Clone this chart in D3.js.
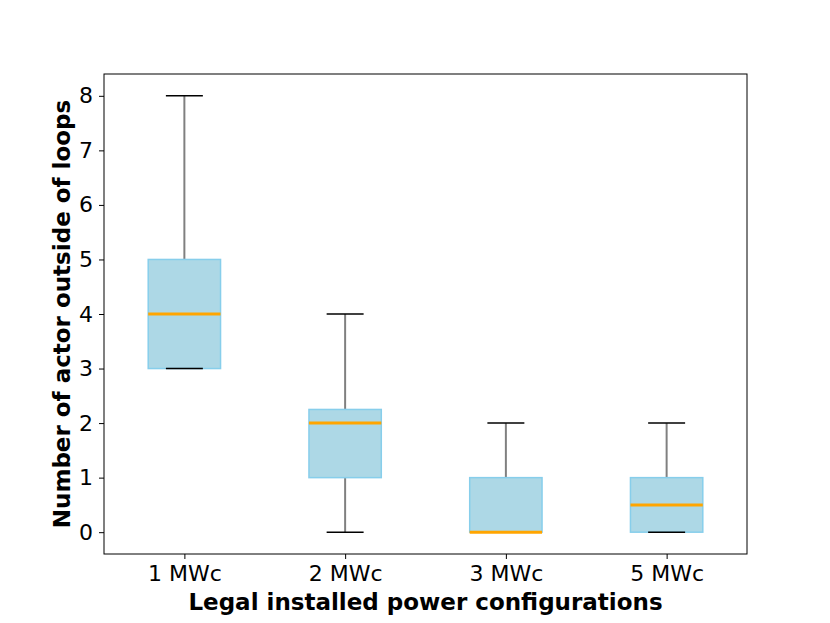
<!DOCTYPE html>
<html>
<head>
<meta charset="utf-8">
<script src="https://cdn.jsdelivr.net/npm/d3@7"></script>
<style>
  body { margin: 0; background: #fff; }
  text { font-family: "DejaVu Sans", sans-serif; }
</style>
</head>
<body>
<svg id="chart"></svg>
<script>
// data
var categories = ["1 MWc", "2 MWc", "3 MWc", "5 MWc"];
var whiskerLow = [3, 0, 0, 0];
var q1 = [3, 1, 0, 0];
var medians = [4, 2, 0, 0.5];
var q3 = [5, 2.25, 1, 1];
var whiskerHigh = [8, 4, 2, 2];
var yTicks = [0, 1, 2, 3, 4, 5, 6, 7, 8];

var w = 830;
var h = 623;
var pLeft = 104, pRight = 747, pTop = 74, pBottom = 554;

var svg = d3.select("#chart")
    .attr("width", w)
    .attr("height", h);

var x = d3.scaleLinear().domain([0.5, 4.5]).range([pLeft, pRight]);
var y = d3.scaleLinear().domain([-0.4, 8.4]).range([pBottom, pTop]);

var boxW = 0.45, capW = 0.23;

var boxes = categories.map(function (c, i) {
    return { pos: i + 1, lo: whiskerLow[i], q1: q1[i], med: medians[i], q3: q3[i], hi: whiskerHigh[i] };
});

var g = svg.append("g");

// whiskers
g.selectAll("line.wlow")
    .data(boxes).enter().append("line")
    .attr("x1", function (d) { return x(d.pos); })
    .attr("x2", function (d) { return x(d.pos); })
    .attr("y1", function (d) { return y(d.q1); })
    .attr("y2", function (d) { return y(d.lo); })
    .attr("stroke", "#808080").attr("stroke-width", 2);

g.selectAll("line.whigh")
    .data(boxes).enter().append("line")
    .attr("x1", function (d) { return x(d.pos); })
    .attr("x2", function (d) { return x(d.pos); })
    .attr("y1", function (d) { return y(d.q3); })
    .attr("y2", function (d) { return y(d.hi); })
    .attr("stroke", "#808080").attr("stroke-width", 2);

// boxes
g.selectAll("rect.box")
    .data(boxes).enter().append("rect")
    .attr("x", function (d) { return x(d.pos - boxW / 2); })
    .attr("width", x(boxW) - x(0))
    .attr("y", function (d) { return y(d.q3); })
    .attr("height", function (d) { return y(d.q1) - y(d.q3); })
    .attr("fill", "#add8e6")
    .attr("stroke", "#87ceeb")
    .attr("stroke-width", 1.5);

// caps
["lo", "hi"].forEach(function (k) {
    g.selectAll("line.cap-" + k)
        .data(boxes).enter().append("line")
        .attr("x1", function (d) { return x(d.pos - capW / 2); })
        .attr("x2", function (d) { return x(d.pos + capW / 2); })
        .attr("y1", function (d) { return y(d[k]); })
        .attr("y2", function (d) { return y(d[k]); })
        .attr("stroke", "#000").attr("stroke-width", 1.5);
});

// medians
g.selectAll("line.median")
    .data(boxes).enter().append("line")
    .attr("x1", function (d) { return x(d.pos - boxW / 2); })
    .attr("x2", function (d) { return x(d.pos + boxW / 2); })
    .attr("y1", function (d) { return y(d.med); })
    .attr("y2", function (d) { return y(d.med); })
    .attr("stroke", "#ffa500").attr("stroke-width", 3);

// axes
var xAxis = svg.append("g")
    .attr("transform", "translate(0," + pBottom + ")")
    .call(d3.axisBottom(x).tickValues([1, 2, 3, 4])
        .tickFormat(function (d) { return categories[d - 1]; })
        .tickSize(5).tickPadding(6));

var yAxis = svg.append("g")
    .attr("transform", "translate(" + pLeft + ",0)")
    .call(d3.axisLeft(y).tickValues(yTicks).tickSize(5).tickPadding(6));

[xAxis, yAxis].forEach(function (a) {
    a.select(".domain").remove();
    a.selectAll(".tick line").attr("stroke", "#000").attr("stroke-width", 1);
    a.selectAll(".tick text")
        .attr("font-family", "DejaVu Sans")
        .attr("font-size", "22px")
        .attr("fill", "#000");
});

// frame
svg.append("rect")
    .attr("x", pLeft).attr("y", pTop)
    .attr("width", pRight - pLeft).attr("height", pBottom - pTop)
    .attr("fill", "none").attr("stroke", "#000").attr("stroke-width", 1);

// labels
svg.append("text")
    .text("Legal installed power configurations")
    .attr("x", (pLeft + pRight) / 2).attr("y", 610)
    .attr("text-anchor", "middle")
    .attr("font-size", "23px").attr("font-weight", "bold");

svg.append("text")
    .text("Number of actor outside of loops")
    .attr("transform", "translate(70," + (pTop + pBottom) / 2 + ") rotate(-90)")
    .attr("text-anchor", "middle")
    .attr("font-size", "23px").attr("font-weight", "bold");
</script>
</body>
</html>
